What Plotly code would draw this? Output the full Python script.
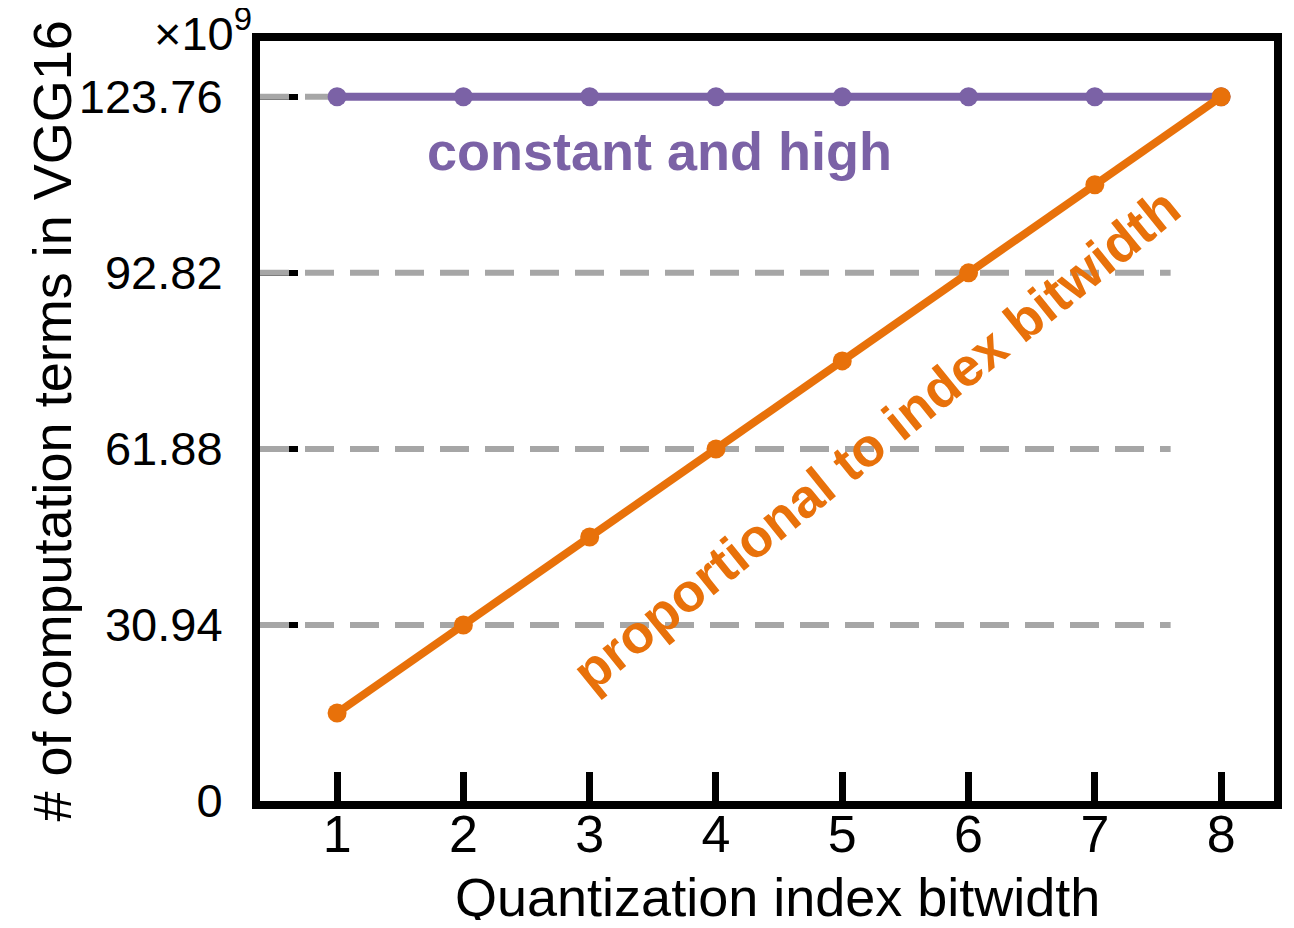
import plotly.graph_objects as go

bitwidth = [1, 2, 3, 4, 5, 6, 7, 8]
constant_terms = [123.76, 123.76, 123.76, 123.76, 123.76, 123.76, 123.76, 123.76]
proportional_terms = [15.47, 30.94, 46.41, 61.88, 77.35, 92.82, 108.29, 123.76]
y_ticks = [0, 30.94, 61.88, 92.82, 123.76]
y_tick_labels = ["0", "30.94", "61.88", "92.82", "123.76"]
x_ticks = [1, 2, 3, 4, 5, 6, 7, 8]
grid_levels = [30.94, 61.88, 92.82, 123.76]

PURPLE = "#7B62A6"
ORANGE = "#E8710A"
GRAY = "#A6A6A6"
FONT = "Liberation Sans, Arial, sans-serif"

X_RANGE = [0.3896, 8.4186]
Y_RANGE = [0, 133.57]

fig = go.Figure()

# dashed reference lines at the tick levels
for lvl in grid_levels:
    fig.add_trace(go.Scatter(
        x=[X_RANGE[0], 7.6], y=[lvl, lvl], mode="lines",
        line=dict(color=GRAY, width=6, dash="29px,16px"),
        hoverinfo="skip", showlegend=False))

fig.add_trace(go.Scatter(
    x=bitwidth, y=constant_terms, mode="lines+markers",
    line=dict(color=PURPLE, width=8),
    marker=dict(color=PURPLE, size=19),
    showlegend=False))

fig.add_trace(go.Scatter(
    x=bitwidth, y=proportional_terms, mode="lines+markers",
    line=dict(color=ORANGE, width=8),
    marker=dict(color=ORANGE, size=19),
    showlegend=False))

fig.update_xaxes(
    range=X_RANGE, tickmode="array", tickvals=x_ticks,
    ticks="inside", ticklen=29, tickwidth=7, tickcolor="black",
    showline=True, linewidth=8, linecolor="black", mirror=True,
    showgrid=False, zeroline=False, layer="below traces",
    tickfont=dict(family=FONT, size=52, color="black"),
    ticklabelstandoff=-19,
)
fig.update_yaxes(
    range=Y_RANGE, tickmode="array", tickvals=y_ticks, ticktext=y_tick_labels,
    ticks="inside", ticklen=38, tickwidth=6, tickcolor="black",
    showline=True, linewidth=8, linecolor="black", mirror=True,
    showgrid=False, zeroline=False, layer="below traces",
    tickfont=dict(family=FONT, size=47, color="black"),
    ticklabelstandoff=20,
)

fig.add_annotation(
    text="constant and high", x=3.55, y=114.3, xref="x", yref="y",
    showarrow=False, font=dict(family=FONT, size=54, color=PURPLE, weight="bold"))
fig.add_annotation(
    text="proportional to index bitwidth", x=5.27, y=63.6, xref="x", yref="y",
    showarrow=False, textangle=-39,
    font=dict(family=FONT, size=54, color=ORANGE, weight="bold"))

fig.add_annotation(
    text="# of computation terms in VGG16", x=-0.2055, y=0.5, xref="paper", yref="paper",
    xanchor="center", yanchor="middle", showarrow=False, textangle=-90,
    font=dict(family=FONT, size=54, color="black"))
fig.add_annotation(
    text="Quantization index bitwidth", x=0.51, y=-0.126, xref="paper", yref="paper",
    xanchor="center", yanchor="middle", showarrow=False,
    font=dict(family=FONT, size=54, color="black"))
fig.add_annotation(
    text="×10<sup>9</sup>", x=0, y=1.0, xref="paper", yref="paper",
    xanchor="right", yanchor="middle", xshift=-6, yshift=11, showarrow=False,
    font=dict(family=FONT, size=47, color="black"))

fig.update_layout(
    width=1278, height=912,
    margin=dict(l=252, r=4, t=33, b=119),
    paper_bgcolor="white", plot_bgcolor="white",
    showlegend=False,
)

fig.write_html("out.html")
